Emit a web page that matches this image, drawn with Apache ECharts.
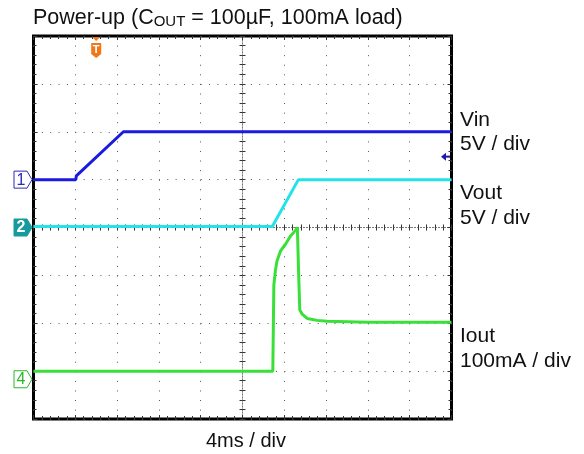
<!DOCTYPE html>
<html>
<head>
<meta charset="utf-8">
<script src="https://cdn.jsdelivr.net/npm/echarts/dist/echarts.min.js"></script>
<style>html,body{margin:0;padding:0;background:#fff}#c{width:584px;height:454px}</style>
</head>
<body>
<div id="c"></div>
<script>
// ---- data (time in ms relative to screen centre, 4 ms/div) ----
const vinTimeMs  = [-20, -15.95, -15.9, -11.4, 20];
const vinVolts   = [0, 0, 0.4, 5, 5];
const voutTimeMs = [-20, 2.85, 5.35, 20];
const voutVolts  = [0.1, 0.1, 5, 5];
const ioutTimeMs = [-20, 2.9, 3.0, 3.16, 3.3, 3.64, 4.11, 4.59, 5.07, 5.25, 5.35, 5.48, 5.71, 6.19, 7.15, 8.1, 12, 20];
const ioutMilliA = [0, 0, 180, 212, 230, 251, 265, 282, 294, 300, 220, 128, 119, 110, 106, 104, 102, 102];

// channel settings: scale per division, trace offset (divisions), marker position
const channelNames      = ['Vin', 'Vout', 'Iout'];
const channelScale      = [5, 5, 100];
const channelOffsetDiv  = [1, 0, -3];
const channelMarkerDiv  = [1, 0, -3.17];
const channelMarkerText = ['1', '2', '4'];
const channelColors     = ['#1a1ae0', '#22e2ea', '#38e038'];
const channelLabels     = [['Vin', '5V / div'], ['Vout', '5V / div'], ['Iout', '100mA / div']];
const triggerTimeMs  = -14;
const triggerLevelDiv = 1.48;

const titleParts = ['Power-up (C', 'OUT', ' = 100µF, 100mA load)'];
const timebaseLabel = '4ms / div';

const FONT = '"Liberation Sans", Arial, sans-serif';
const tickColor = '#333';
const dotColor = '#555';

function toDiv(times, vals, ch) {
  return times.map((t, i) => [t, channelOffsetDiv[ch] + vals[i] / channelScale[ch]]);
}

function xAx(extra) {
  return Object.assign({
    type: 'value', min: -20, max: 20, interval: 4,
    axisLabel: { show: false },
    splitLine: { show: false },
    axisTick: { show: true, inside: true, length: 4, lineStyle: { color: tickColor } },
    minorTick: { show: true, splitNumber: 5, length: 3, lineStyle: { color: tickColor } }
  }, extra);
}
function yAx(extra) {
  return Object.assign({
    type: 'value', min: -4, max: 4, interval: 1,
    axisLabel: { show: false },
    splitLine: { show: false },
    axisTick: { show: true, inside: true, length: 4, lineStyle: { color: tickColor } },
    minorTick: { show: true, splitNumber: 5, length: 3, lineStyle: { color: tickColor } }
  }, extra);
}

const chart = echarts.init(document.getElementById('c'), null, { renderer: 'canvas' });
const centreLine = { color: '#777', type: [1, 2], width: 1 };

chart.setOption({
  animation: false,
  backgroundColor: '#fff',
  grid: { left: 33.5, top: 36, width: 418, height: 383, show: true, borderColor: '#000', borderWidth: 3, backgroundColor: 'transparent' },
  xAxis: [
    xAx({ position: 'bottom', axisLine: { show: false, onZero: false },
          splitLine: { show: true, lineStyle: { color: dotColor, width: 1, type: [1, 8.58] } } }),
    xAx({ position: 'top', axisLine: { show: false, onZero: false } }),
    xAx({ position: 'bottom', axisLine: { show: true, onZero: true, onZeroAxisIndex: 0, lineStyle: centreLine },
          axisTick: { show: true, inside: true, length: 3, lineStyle: { color: tickColor } } }),
    xAx({ position: 'bottom', axisLine: { show: true, onZero: true, onZeroAxisIndex: 0, lineStyle: centreLine },
          axisTick: { show: true, inside: false, length: 3, lineStyle: { color: tickColor } } })
  ],
  yAxis: [
    yAx({ position: 'left', axisLine: { show: false, onZero: false },
          splitLine: { show: true, lineStyle: { color: dotColor, width: 1, type: [1, 7.36] } } }),
    yAx({ position: 'right', axisLine: { show: false, onZero: false } }),
    yAx({ position: 'left', axisLine: { show: true, onZero: true, onZeroAxisIndex: 0, lineStyle: centreLine },
          axisTick: { show: true, inside: true, length: 3, lineStyle: { color: tickColor } } }),
    yAx({ position: 'left', axisLine: { show: true, onZero: true, onZeroAxisIndex: 0, lineStyle: centreLine },
          axisTick: { show: true, inside: false, length: 3, lineStyle: { color: tickColor } } })
  ],
  series: [
    { name: channelNames[2], type: 'line', xAxisIndex: 0, yAxisIndex: 0, showSymbol: false, silent: true,
      data: toDiv(ioutTimeMs, ioutMilliA, 2), lineStyle: { color: channelColors[2], width: 3 }, z: 3 },
    { name: channelNames[1], type: 'line', xAxisIndex: 0, yAxisIndex: 0, showSymbol: false, silent: true,
      data: toDiv(voutTimeMs, voutVolts, 1), lineStyle: { color: channelColors[1], width: 3 }, z: 4 },
    { name: channelNames[0], type: 'line', xAxisIndex: 0, yAxisIndex: 0, showSymbol: false, silent: true,
      data: toDiv(vinTimeMs, vinVolts, 0), lineStyle: { color: channelColors[0], width: 3 }, z: 5 }
  ]
});

// ---- overlay decorations placed via the chart's own scales ----
const px = (t, d) => chart.convertToPixel({ xAxisIndex: 0, yAxisIndex: 0 }, [t, d]);
const gfx = [];

// title
gfx.push({ type: 'text', left: 33, top: 7, style: {
  text: '{a|' + titleParts[0] + '}{b|' + titleParts[1] + '}{a|' + titleParts[2] + '}',
  rich: {
    a: { fontFamily: FONT, fontSize: 21.5, fill: '#111', verticalAlign: 'bottom' },
    b: { fontFamily: FONT, fontSize: 15, fill: '#111', verticalAlign: 'bottom' }
  } } });

// timebase label
gfx.push({ type: 'text', x: 246, y: 441, style: { text: timebaseLabel, font: '20px ' + FONT, fill: '#111', align: 'center', verticalAlign: 'middle' } });

// right-side channel labels
const labelY = [[120, 144], [193, 218], [336, 361]];
channelLabels.forEach((pair, i) => {
  pair.forEach((txt, j) => {
    gfx.push({ type: 'text', x: 460, y: labelY[i][j], style: { text: txt, font: '21px ' + FONT, fill: '#111', align: 'left', verticalAlign: 'middle' } });
  });
});

// channel markers on the left
channelMarkerDiv.forEach((d, i) => {
  const p = px(-20, d);
  const x1 = p[0] - 1.5, y = p[1];
  const filled = i === 1;
  const col = i === 1 ? '#179a9e' : (i === 0 ? '#2a2ab8' : '#2ab82a');
  gfx.push({ type: 'polygon', shape: { points: [[x1 - 18, y - 8.5], [x1 - 5, y - 8.5], [x1, y], [x1 - 5, y + 8.5], [x1 - 18, y + 8.5]] },
    style: { fill: filled ? col : '#fff', stroke: col, lineWidth: 1 }, z: 10 });
  gfx.push({ type: 'text', x: x1 - 11, y: y + 0.5, style: { text: channelMarkerText[i], font: (filled ? 'bold ' : '') + '16px ' + FONT, fill: filled ? '#fff' : col, align: 'center', verticalAlign: 'middle' }, z: 11 });
});

// trigger position marker (top)
(function () {
  const p = px(triggerTimeMs, 4);
  const x = p[0], y = p[1];
  const oc = '#f07818';
  gfx.push({ type: 'polygon', shape: { points: [[x - 4, y + 1], [x + 4, y + 1], [x, y + 5]] }, style: { fill: oc }, z: 10 });
  gfx.push({ type: 'polygon', shape: { points: [[x - 5, y + 7], [x + 5, y + 7], [x + 5, y + 18], [x, y + 22], [x - 5, y + 18]] }, style: { fill: oc }, z: 10 });
  gfx.push({ type: 'text', x: x, y: y + 14, style: { text: 'T', font: 'bold 11px ' + FONT, fill: '#fff', align: 'center', verticalAlign: 'middle' }, z: 11 });
})();

// trigger level marker (right)
(function () {
  const p = px(20, triggerLevelDiv);
  const x = p[0] - 1.5, y = p[1];
  gfx.push({ type: 'polygon', shape: { points: [[x - 9, y], [x - 4, y - 4], [x - 4, y + 4]] }, style: { fill: '#1c1cb0' }, z: 10 });
  gfx.push({ type: 'line', shape: { x1: x - 5, y1: y, x2: x, y2: y }, style: { stroke: '#1c1cb0', lineWidth: 2 }, z: 10 });
})();

chart.setOption({ graphic: gfx });
</script>
</body>
</html>
